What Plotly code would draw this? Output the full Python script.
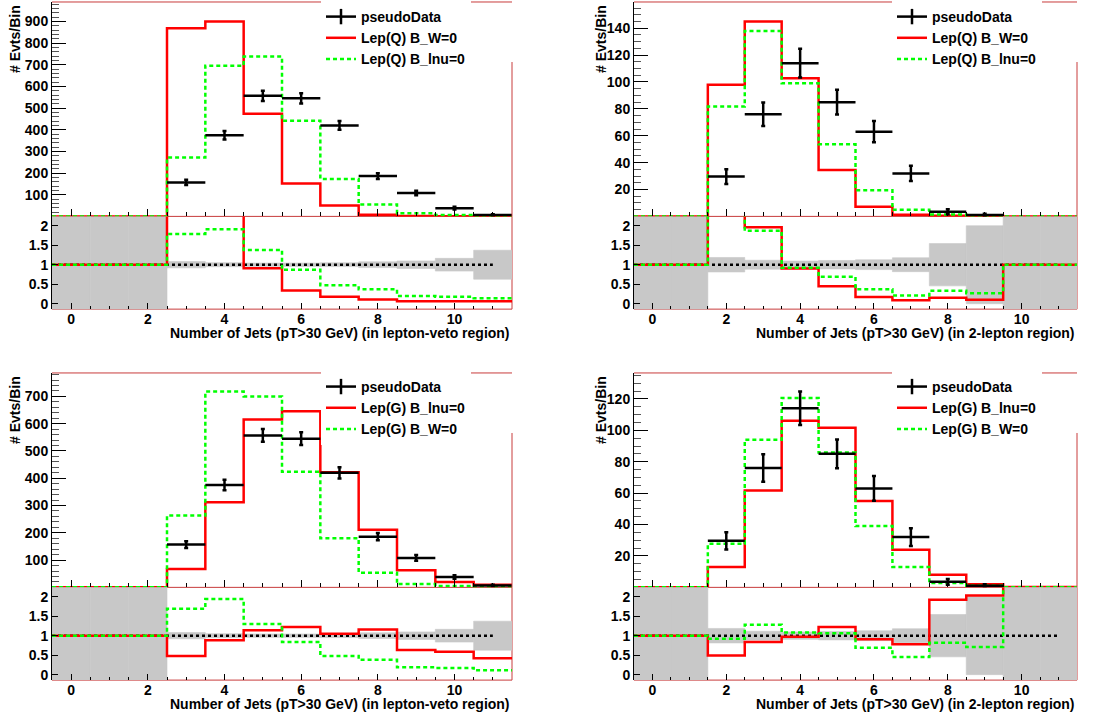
import plotly.graph_objects as go

W, H = 1102, 721
FONT = "Liberation Sans"

# ---------------- data ----------------
njets = list(range(12))
xtick_vals = [0, 2, 4, 6, 8, 10]
ratio_ticks = [0, 0.5, 1, 1.5, 2]
ratio_labels = ["0", "0.5", "1", "1.5", "2"]

veto_yticks = [100, 200, 300, 400, 500, 600, 700, 800, 900]
vetoG_yticks = [100, 200, 300, 400, 500, 600, 700]
twolep_yticks = [20, 40, 60, 80, 100, 120, 140]
twolepG_yticks = [20, 40, 60, 80, 100, 120]

# lepton-veto region
veto_data = [0, 0, 0, 157, 375, 557, 545, 420, 186, 108, 38, 7]
veto_err = [0, 0, 0, 12.5, 19.4, 23.6, 23.3, 20.5, 13.6, 10.4, 6.2, 2.6]

vetoQ_W0 = [0, 0, 0, 869, 900, 474, 152, 50, 8, 2, 1, 0.5]
vetoQ_lnu0 = [0, 0, 0, 272, 696, 738, 442, 173, 55, 14, 6, 3]
vetoQ_W0_ratio = [1, 1, 1, 5.5, 2.4, 0.91, 0.34, 0.18, 0.11, 0.06, 0.06, 0.06]
vetoQ_lnu0_ratio = [1, 1, 1, 1.79, 1.91, 1.38, 0.87, 0.47, 0.37, 0.20, 0.18, 0.14]

vetoG_lnu0 = [0, 0, 0, 67, 312, 615, 646, 422, 211, 63, 19.5, 10]
vetoG_W0 = [0, 0, 0, 263, 718, 700, 424, 180, 54, 12, 5, 2]
vetoG_lnu0_ratio = [1, 1, 1, 0.48, 0.88, 1.14, 1.22, 1.05, 1.16, 0.63, 0.59, 0.42]
vetoG_W0_ratio = [1, 1, 1, 1.69, 1.94, 1.30, 0.84, 0.48, 0.38, 0.19, 0.17, 0.11]

# 2-lepton region
twolep_data = [0, 0, 29.6, 76, 114, 85, 63, 32, 3.5, 1, 0, 0]
twolep_err = [0, 0, 5.5, 8.7, 10.7, 9.2, 7.9, 5.7, 1.9, 1.0, 0, 0]

twolepQ_W0 = [0, 0, 98, 145, 102.7, 34.6, 7.2, 1.2, 0.5, 0.3, 0, 0]
twolepQ_lnu0 = [0, 0, 81.7, 138, 99, 53.6, 19.5, 5, 1.5, 0.5, 0, 0]
twolepQ_W0_ratio = [1, 1, 3.3, 1.96, 0.90, 0.45, 0.17, 0.09, 0.15, 0.10, 1, 1]
twolepQ_lnu0_ratio = [1, 1, 2.76, 1.87, 0.92, 0.69, 0.37, 0.21, 0.33, 0.27, 1, 1]

twolepG_lnu0 = [0, 0, 12.9, 61.7, 106, 101.6, 55, 23.9, 8, 2, 0.3, 0.3]
twolepG_W0 = [0, 0, 27.7, 94, 120.6, 85.8, 39, 12.9, 2.7, 1, 0, 0]
twolepG_lnu0_ratio = [1, 1, 0.49, 0.84, 0.97, 1.22, 0.91, 0.78, 1.92, 2.03, 3, 3]
twolepG_W0_ratio = [1, 1, 0.92, 1.28, 1.08, 1.06, 0.69, 0.45, 0.82, 0.71, 3, 3]

# ---------------- style ----------------
RED = "#ff0000"
GREEN = "#00ff00"
GRAY = "#c8c8c8"
FRAME = "#c83c3c"
GREEN_DASH = "4px,3px"
RATIO_RANGE = [-0.14, 2.24]
TF = dict(family=FONT, size=14, color="black", weight="bold")

panels = [
    dict(xtitle="Number of Jets (pT>30 GeV) (in lepton-veto region)",
         data=veto_data, err=veto_err, yticks=veto_yticks, ymax=990, minor=20,
         hists=[("Lep(Q) B_W=0", vetoQ_W0, vetoQ_W0_ratio, RED, "solid"),
                ("Lep(Q) B_lnu=0", vetoQ_lnu0, vetoQ_lnu0_ratio, GREEN, GREEN_DASH)],
         px=(52, 512), py=(2, 217, 310), ytx=15, legx=321, legy=1),
    dict(xtitle="Number of Jets (pT>30 GeV) (in 2-lepton region)",
         data=twolep_data, err=twolep_err, yticks=twolep_yticks, ymax=159.5, minor=5,
         hists=[("Lep(Q) B_W=0", twolepQ_W0, twolepQ_W0_ratio, RED, "solid"),
                ("Lep(Q) B_lnu=0", twolepQ_lnu0, twolepQ_lnu0_ratio, GREEN, GREEN_DASH)],
         px=(634, 1077), py=(2, 217, 310), ytx=601, legx=892, legy=1),
    dict(xtitle="Number of Jets (pT>30 GeV) (in lepton-veto region)",
         data=veto_data, err=veto_err, yticks=vetoG_yticks, ymax=786, minor=20,
         hists=[("Lep(G) B_lnu=0", vetoG_lnu0, vetoG_lnu0_ratio, RED, "solid"),
                ("Lep(G) B_W=0", vetoG_W0, vetoG_W0_ratio, GREEN, GREEN_DASH)],
         px=(52, 512), py=(374, 589, 682), ytx=15, legx=321, legy=372),
    dict(xtitle="Number of Jets (pT>30 GeV) (in 2-lepton region)",
         data=twolep_data, err=twolep_err, yticks=twolepG_yticks, ymax=136.5, minor=5,
         hists=[("Lep(G) B_lnu=0", twolepG_lnu0, twolepG_lnu0_ratio, RED, "solid"),
                ("Lep(G) B_W=0", twolepG_W0, twolepG_W0_ratio, GREEN, GREEN_DASH)],
         px=(634, 1077), py=(374, 589, 682), ytx=601, legx=892, legy=372),
]


def fx(px):
    """page pixel -> paper fraction (x)"""
    return px / W


def fy(py):
    """page pixel -> paper fraction (y)"""
    return 1 - py / H


def dom_x(a, b):
    return [fx(a), fx(b)]


def dom_y(top, bottom):
    return [fy(bottom), fy(top)]


edges = [n - 0.5 for n in njets] + [njets[-1] + 0.5]


def step_y(vals):
    return list(vals) + [vals[-1]]


fig = go.Figure()
layout = dict(width=W, height=H, margin=dict(l=0, r=0, t=0, b=0),
              paper_bgcolor="white", plot_bgcolor="rgba(0,0,0,0)",
              showlegend=True, annotations=[], shapes=[])

for i, p in enumerate(panels):
    m, r = 2 * i + 1, 2 * i + 2
    mx = "x" if m == 1 else f"x{m}"
    my = "y" if m == 1 else f"y{m}"
    rx, ry = f"x{r}", f"y{r}"
    leg = "legend" if i == 0 else f"legend{i + 1}"

    # ---- main panel ----
    fig.add_trace(go.Scatter(
        x=[None], y=[None], mode="lines+markers", name="pseudoData",
        line=dict(color="black", width=2.5),
        marker=dict(symbol="line-ns-open", size=11, color="black",
                    line=dict(color="black", width=2.5)),
        xaxis=mx, yaxis=my, legend=leg, showlegend=True))
    for name, vals, rat, col, dash in p["hists"]:
        fig.add_trace(go.Scatter(
            x=edges, y=step_y(vals), mode="lines", line_shape="hv", name=name,
            line=dict(color=col, width=2.5, dash=dash),
            xaxis=mx, yaxis=my, legend=leg, showlegend=True))
    dx = [n for n, d in zip(njets, p["data"]) if d > 0]
    dy = [d for d in p["data"] if d > 0]
    de = [e for e, d in zip(p["err"], p["data"]) if d > 0]
    fig.add_trace(go.Scatter(
        x=dx, y=dy, mode="markers", marker=dict(size=2, color="black"),
        error_x=dict(type="data", array=[0.5] * len(dx), color="black", thickness=2.5, width=0),
        error_y=dict(type="data", array=de, color="black", thickness=2.5, width=2),
        xaxis=mx, yaxis=my, showlegend=False))

    # ---- ratio panel ----
    lo, hi = [], []
    for d, e in zip(p["data"], p["err"]):
        if d > 0:
            lo.append(1 - e / d)
            hi.append(1 + e / d)
        else:
            lo.append(RATIO_RANGE[0] - 1)
            hi.append(RATIO_RANGE[1] + 1)
    fig.add_trace(go.Bar(
        x=njets, y=[h - l for h, l in zip(hi, lo)], base=lo, width=1,
        marker=dict(color=GRAY, line=dict(width=0.6, color=GRAY)),
        xaxis=rx, yaxis=ry, showlegend=False))
    fig.add_trace(go.Scatter(
        x=[edges[0], njets[-1]], y=[1, 1], mode="lines",
        line=dict(color="black", width=2.5, dash="3px,3px"),
        xaxis=rx, yaxis=ry, showlegend=False))
    for name, vals, rat, col, dash in p["hists"]:
        fig.add_trace(go.Scatter(
            x=edges, y=step_y(rat), mode="lines", line_shape="hv",
            line=dict(color=col, width=2.5, dash=dash),
            xaxis=rx, yaxis=ry, showlegend=False))

    # ---- axes ----
    xdom = dom_x(*p["px"])
    top, mid, bot = p["py"]
    layout[f"xaxis{'' if m == 1 else m}"] = dict(
        domain=xdom, range=[edges[0], edges[-1]], anchor=my,
        showticklabels=False, tickvals=xtick_vals, ticks="inside", ticklen=7,
        tickcolor="black", tickwidth=1,
        minor=dict(tickmode="linear", tick0=0, dtick=0.5, ticks="inside", ticklen=4,
                   tickcolor="black"),
        showgrid=False, zeroline=False, showline=False)
    layout[f"yaxis{'' if m == 1 else m}"] = dict(
        domain=dom_y(top, mid), range=[0, p["ymax"]], anchor=mx,
        tickvals=p["yticks"], ticks="inside", ticklen=14, tickcolor="black",
        minor=dict(tickmode="linear", tick0=0, dtick=p["minor"], ticks="inside",
                   ticklen=7, tickcolor="#555555"),
        showline=True, linecolor="black", linewidth=1,
        showgrid=False, zeroline=False, tickfont=TF)
    layout[f"xaxis{r}"] = dict(
        domain=xdom, range=[edges[0], edges[-1]], anchor=ry,
        tickvals=xtick_vals, ticks="inside", ticklen=6, tickcolor="black",
        minor=dict(tickmode="linear", tick0=0, dtick=0.5, ticks="inside", ticklen=3,
                   tickcolor="black"),
        showgrid=False, zeroline=False, showline=False, tickfont=TF)
    layout[f"yaxis{r}"] = dict(
        domain=dom_y(mid, bot), range=RATIO_RANGE, anchor=rx,
        tickvals=ratio_ticks, ticktext=ratio_labels, ticks="inside", ticklen=6,
        tickcolor="black", showline=True, linecolor="black", linewidth=1,
        showgrid=False, zeroline=False, tickfont=TF)

    # ---- frames ----
    layout["shapes"] += [
        dict(type="rect", xref=f"{rx} domain", yref=f"{ry} domain",
             x0=0, x1=1, y0=0, y1=1, line=dict(color=FRAME, width=1), layer="below"),
        dict(type="line", xref=f"{mx} domain", yref=f"{my} domain",
             x0=0, x1=1, y0=1, y1=1, line=dict(color=FRAME, width=1)),
        dict(type="line", xref=f"{mx} domain", yref=f"{my} domain",
             x0=1, x1=1, y0=0, y1=0.72, line=dict(color=FRAME, width=1)),
    ]

    # ---- titles ----
    layout["annotations"] += [
        dict(text="# Evts/Bin", textangle=-90, xref="paper", yref="paper",
             x=fx(p["ytx"]), y=fy(top + 1), xanchor="center", yanchor="top",
             showarrow=False, font=dict(family=FONT, size=14, color="black", weight="bold")),
        dict(text=p["xtitle"], xref="paper", yref="paper",
             x=fx(p["px"][1]), y=fy(bot + 24), xanchor="right", yanchor="middle",
             showarrow=False, font=TF),
    ]

    layout[leg] = dict(x=fx(p["legx"]), y=fy(p["legy"]), xanchor="left", yanchor="top",
                       bgcolor="white", borderwidth=0, font=TF, traceorder="normal")

fig.update_layout(**layout)
# remove the browser's default 8px body margin so the figure sits at the page origin
fig.write_html("out.html", config={"displayModeBar": False},
               post_script="document.body.style.margin='0px';")
